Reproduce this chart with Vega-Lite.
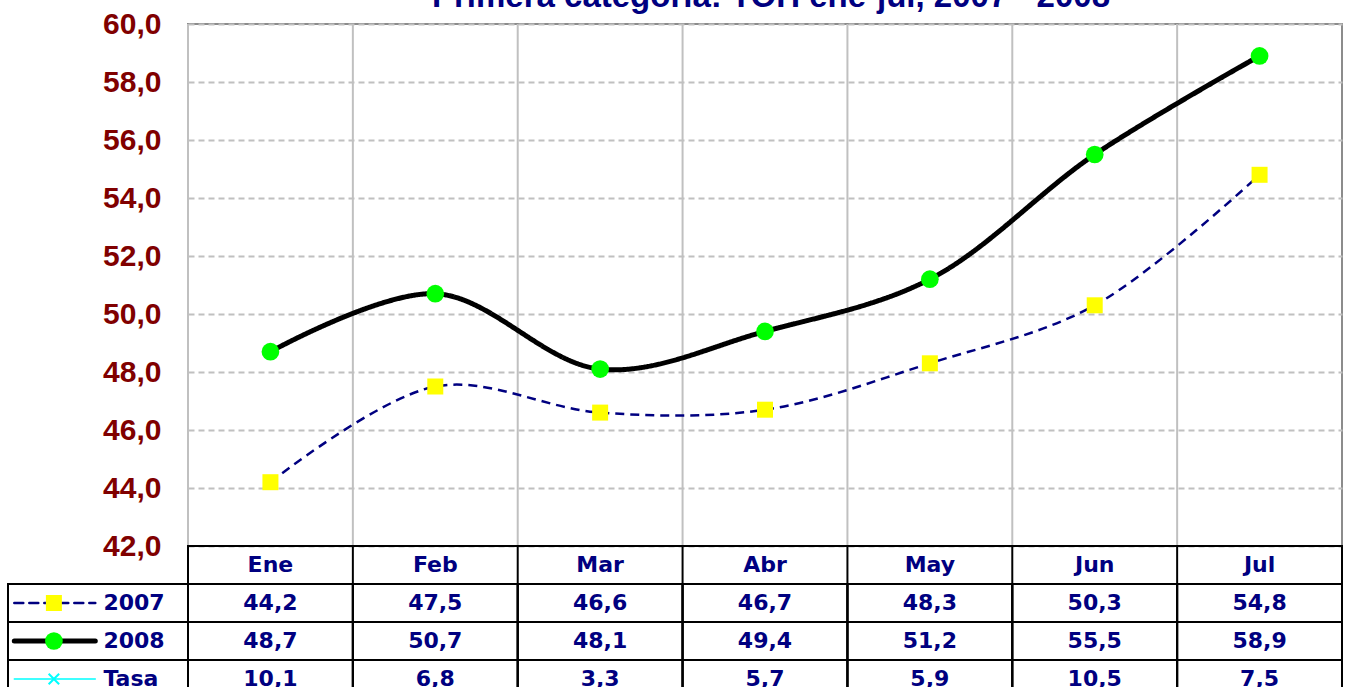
{
  "$schema": "https://vega.github.io/schema/vega-lite/v6.json",
  "padding": {"left": 7, "top": -20, "right": 5, "bottom": 0},
  "background": "white",
  "config": {
    "locale": {"number": {"decimal": ",", "thousands": ".", "grouping": [3], "currency": ["", " €"]}},
    "view": {"stroke": null}
  },
  "datasets": {
    "meses": [{"mes": "Ene"}, {"mes": "Feb"}, {"mes": "Mar"}, {"mes": "Abr"}, {"mes": "May"}, {"mes": "Jun"}, {"mes": "Jul"}],
    "leyenda": [{"serie": "2007"}, {"serie": "2008"}, {"serie": "Tasa"}],
    "series": [
      {"mes": "Ene", "serie": "2007", "valor": 44.2},
      {"mes": "Feb", "serie": "2007", "valor": 47.5},
      {"mes": "Mar", "serie": "2007", "valor": 46.6},
      {"mes": "Abr", "serie": "2007", "valor": 46.7},
      {"mes": "May", "serie": "2007", "valor": 48.3},
      {"mes": "Jun", "serie": "2007", "valor": 50.3},
      {"mes": "Jul", "serie": "2007", "valor": 54.8},
      {"mes": "Ene", "serie": "2008", "valor": 48.7},
      {"mes": "Feb", "serie": "2008", "valor": 50.7},
      {"mes": "Mar", "serie": "2008", "valor": 48.1},
      {"mes": "Abr", "serie": "2008", "valor": 49.4},
      {"mes": "May", "serie": "2008", "valor": 51.2},
      {"mes": "Jun", "serie": "2008", "valor": 55.5},
      {"mes": "Jul", "serie": "2008", "valor": 58.9},
      {"mes": "Ene", "serie": "Tasa", "valor": 10.1},
      {"mes": "Feb", "serie": "Tasa", "valor": 6.8},
      {"mes": "Mar", "serie": "Tasa", "valor": 3.3},
      {"mes": "Abr", "serie": "Tasa", "valor": 5.7},
      {"mes": "May", "serie": "Tasa", "valor": 5.9},
      {"mes": "Jun", "serie": "Tasa", "valor": 10.5},
      {"mes": "Jul", "serie": "Tasa", "valor": 7.5}
    ]
  },
  "columns": 2,
  "spacing": 0,
  "bounds": "flush",
  "align": "each",
  "concat": [
    {
      "width": 180,
      "height": 522,
      "data": {"values": [{"k": 1}]},
      "mark": {"type": "text"},
      "encoding": {"text": {"value": ""}}
    },
    {
      "width": 1154,
      "height": 522,
      "view": {"stroke": "#8c8c8c", "strokeWidth": 2},
      "title": {"text": "Primera categoría: TOH ene-jul, 2007 - 2008", "font": "Liberation Sans", "fontSize": 33, "fontWeight": "bold", "color": "#000080", "anchor": "middle", "frame": "group", "baseline": "alphabetic", "offset": -31, "dx": 6},
      "data": {"name": "series"},
      "layer": [
        {
          "data": {"name": "meses"},
          "mark": {"type": "rule", "color": "#c0c0c0", "strokeWidth": 2},
          "encoding": {
            "x": {"field": "mes", "type": "nominal", "bandPosition": 0, "scale": {"type": "band", "domain": ["Ene", "Feb", "Mar", "Abr", "May", "Jun", "Jul"], "paddingInner": 0, "paddingOuter": 0}, "axis": null}
          }
        },
        {
          "transform": [{"filter": "datum.serie !== 'Tasa'"}],
          "mark": {"type": "line", "interpolate": "catmull-rom", "strokeCap": "butt"},
          "encoding": {
            "x": {"field": "mes", "type": "nominal", "bandPosition": 0.5, "scale": {"type": "band", "domain": ["Ene", "Feb", "Mar", "Abr", "May", "Jun", "Jul"], "paddingInner": 0, "paddingOuter": 0}, "axis": null},
            "y": {"field": "valor", "type": "quantitative",
              "scale": {"domain": [42, 60], "nice": false, "zero": false},
              "axis": {"values": [42, 44, 46, 48, 50, 52, 54, 56, 58, 60], "format": ".1f", "grid": true, "gridDash": [6, 4], "gridColor": "#c0c0c0", "gridWidth": 2, "domain": false, "ticks": false, "tickSize": 0, "labelPadding": 27, "labelFont": "Liberation Sans", "labelFontSize": 30, "labelFontWeight": "bold", "labelColor": "#800000", "title": null}},
            "stroke": {"field": "serie", "type": "nominal", "scale": {"type": "ordinal", "domain": ["2007", "2008", "Tasa"], "range": ["#000080", "#000000", "#00ffff"]}, "legend": null},
            "strokeDash": {"field": "serie", "type": "nominal", "scale": {"type": "ordinal", "domain": ["2007", "2008", "Tasa"], "range": [[9, 6], [1, 0], [1, 0]]}, "legend": null},
            "strokeWidth": {"field": "serie", "type": "nominal", "scale": {"type": "ordinal", "domain": ["2007", "2008", "Tasa"], "range": [2.5, 5, 1.5]}, "legend": null}
          }
        },
        {
          "transform": [{"filter": "datum.serie !== 'Tasa'"}],
          "mark": {"type": "point", "filled": true, "opacity": 1},
          "encoding": {
            "x": {"field": "mes", "type": "nominal", "bandPosition": 0.5, "scale": {"type": "band", "domain": ["Ene", "Feb", "Mar", "Abr", "May", "Jun", "Jul"], "paddingInner": 0, "paddingOuter": 0}, "axis": null},
            "y": {"field": "valor", "type": "quantitative"},
            "fill": {"field": "serie", "type": "nominal", "scale": {"type": "ordinal", "domain": ["2007", "2008", "Tasa"], "range": ["#ffff00", "#00ff00", "#00ffff"]}, "legend": null},
            "shape": {"field": "serie", "type": "nominal", "scale": {"type": "ordinal", "domain": ["2007", "2008", "Tasa"], "range": ["square", "circle", "cross"]}, "legend": null},
            "size": {"field": "serie", "type": "nominal", "scale": {"type": "ordinal", "domain": ["2007", "2008", "Tasa"], "range": [256, 314, 150]}, "legend": null}
          }
        }
      ]
    },
    {
      "width": 180,
      "height": 152,
      "data": {"name": "leyenda"},
      "layer": [
        {
          "mark": {"type": "rect", "fillOpacity": 0, "stroke": "#000000", "strokeWidth": 2},
          "encoding": {
            "y": {"field": "serie", "type": "nominal", "scale": {"type": "band", "domain": ["hdr", "2007", "2008", "Tasa"], "paddingInner": 0, "paddingOuter": 0}, "axis": null},
            "x": {"datum": 0, "type": "quantitative", "scale": {"domain": [0, 10], "nice": false, "zero": false}, "axis": null},
            "x2": {"datum": 10}
          }
        },
        {
          "mark": {"type": "rule", "strokeCap": "round"},
          "encoding": {
            "y": {"field": "serie", "type": "nominal", "bandPosition": 0.5, "scale": {"type": "band", "domain": ["hdr", "2007", "2008", "Tasa"], "paddingInner": 0, "paddingOuter": 0}, "axis": null},
            "x": {"datum": 0.35, "type": "quantitative", "scale": {"domain": [0, 10], "nice": false, "zero": false}, "axis": null},
            "x2": {"datum": 4.85},
            "stroke": {"field": "serie", "type": "nominal", "scale": {"type": "ordinal", "domain": ["2007", "2008", "Tasa"], "range": ["#000080", "#000000", "#00ffff"]}, "legend": null},
            "strokeDash": {"field": "serie", "type": "nominal", "scale": {"type": "ordinal", "domain": ["2007", "2008", "Tasa"], "range": [[9, 6], [1, 0], [1, 0]]}, "legend": null},
            "strokeWidth": {"field": "serie", "type": "nominal", "scale": {"type": "ordinal", "domain": ["2007", "2008", "Tasa"], "range": [2.5, 5, 1.5]}, "legend": null}
          }
        },
        {
          "transform": [{"filter": "datum.serie !== 'Tasa'"}],
          "mark": {"type": "point", "filled": true, "opacity": 1},
          "encoding": {
            "y": {"field": "serie", "type": "nominal", "bandPosition": 0.5, "scale": {"type": "band", "domain": ["hdr", "2007", "2008", "Tasa"], "paddingInner": 0, "paddingOuter": 0}, "axis": null},
            "x": {"datum": 2.55, "type": "quantitative", "scale": {"domain": [0, 10], "nice": false, "zero": false}, "axis": null},
            "fill": {"field": "serie", "type": "nominal", "scale": {"type": "ordinal", "domain": ["2007", "2008", "Tasa"], "range": ["#ffff00", "#00ff00", "#00ffff"]}, "legend": null},
            "shape": {"field": "serie", "type": "nominal", "scale": {"type": "ordinal", "domain": ["2007", "2008", "Tasa"], "range": ["square", "circle", "cross"]}, "legend": null},
            "size": {"field": "serie", "type": "nominal", "scale": {"type": "ordinal", "domain": ["2007", "2008", "Tasa"], "range": [256, 314, 150]}, "legend": null}
          }
        },
        {
          "transform": [{"filter": "datum.serie === 'Tasa'"}],
          "mark": {"type": "point", "filled": false, "shape": "M-1,-1L1,1M-1,1L1,-1", "stroke": "#00ffff", "strokeWidth": 2, "size": 110, "opacity": 1},
          "encoding": {
            "y": {"field": "serie", "type": "nominal", "bandPosition": 0.5, "scale": {"type": "band", "domain": ["hdr", "2007", "2008", "Tasa"], "paddingInner": 0, "paddingOuter": 0}, "axis": null},
            "x": {"datum": 2.55, "type": "quantitative", "scale": {"domain": [0, 10], "nice": false, "zero": false}, "axis": null}
          }
        },
        {
          "mark": {"type": "text", "align": "left", "baseline": "middle", "font": "DejaVu Sans", "fontSize": 22, "fontWeight": "bold", "color": "#000080"},
          "encoding": {
            "y": {"field": "serie", "type": "nominal", "bandPosition": 0.5, "scale": {"type": "band", "domain": ["hdr", "2007", "2008", "Tasa"], "paddingInner": 0, "paddingOuter": 0}, "axis": null},
            "x": {"datum": 5.3, "type": "quantitative", "scale": {"domain": [0, 10], "nice": false, "zero": false}, "axis": null},
            "text": {"field": "serie", "type": "nominal"}
          }
        }
      ]
    },
    {
      "width": 1154,
      "height": 152,
      "view": {"stroke": "#000000", "strokeWidth": 2},
      "data": {"name": "series"},
      "layer": [
        {
          "mark": {"type": "rect", "fillOpacity": 0, "stroke": "#000000", "strokeWidth": 2},
          "encoding": {
            "x": {"field": "mes", "type": "nominal", "scale": {"type": "band", "domain": ["Ene", "Feb", "Mar", "Abr", "May", "Jun", "Jul"], "paddingInner": 0, "paddingOuter": 0}, "axis": null},
            "y": {"field": "serie", "type": "nominal", "scale": {"type": "band", "domain": ["hdr", "2007", "2008", "Tasa"], "paddingInner": 0, "paddingOuter": 0}, "axis": null}
          }
        },
        {
          "data": {"name": "meses"},
          "mark": {"type": "rule", "color": "#000000", "strokeWidth": 2},
          "encoding": {
            "x": {"field": "mes", "type": "nominal", "bandPosition": 0, "scale": {"type": "band", "domain": ["Ene", "Feb", "Mar", "Abr", "May", "Jun", "Jul"], "paddingInner": 0, "paddingOuter": 0}, "axis": null}
          }
        },
        {
          "data": {"name": "meses"},
          "mark": {"type": "text", "align": "center", "baseline": "middle", "font": "DejaVu Sans", "fontSize": 22, "fontWeight": "bold", "color": "#000080"},
          "encoding": {
            "x": {"field": "mes", "type": "nominal", "bandPosition": 0.5, "scale": {"type": "band", "domain": ["Ene", "Feb", "Mar", "Abr", "May", "Jun", "Jul"], "paddingInner": 0, "paddingOuter": 0}, "axis": null},
            "y": {"datum": "hdr", "type": "nominal", "bandPosition": 0.5, "scale": {"type": "band", "domain": ["hdr", "2007", "2008", "Tasa"], "paddingInner": 0, "paddingOuter": 0}, "axis": null},
            "text": {"field": "mes", "type": "nominal"}
          }
        },
        {
          "mark": {"type": "text", "align": "center", "baseline": "middle", "font": "DejaVu Sans", "fontSize": 22, "fontWeight": "bold", "color": "#000080"},
          "encoding": {
            "x": {"field": "mes", "type": "nominal", "bandPosition": 0.5, "scale": {"type": "band", "domain": ["Ene", "Feb", "Mar", "Abr", "May", "Jun", "Jul"], "paddingInner": 0, "paddingOuter": 0}, "axis": null},
            "y": {"field": "serie", "type": "nominal", "bandPosition": 0.5, "scale": {"type": "band", "domain": ["hdr", "2007", "2008", "Tasa"], "paddingInner": 0, "paddingOuter": 0}, "axis": null},
            "text": {"field": "valor", "type": "quantitative", "format": ".1f"}
          }
        }
      ]
    }
  ]
}
